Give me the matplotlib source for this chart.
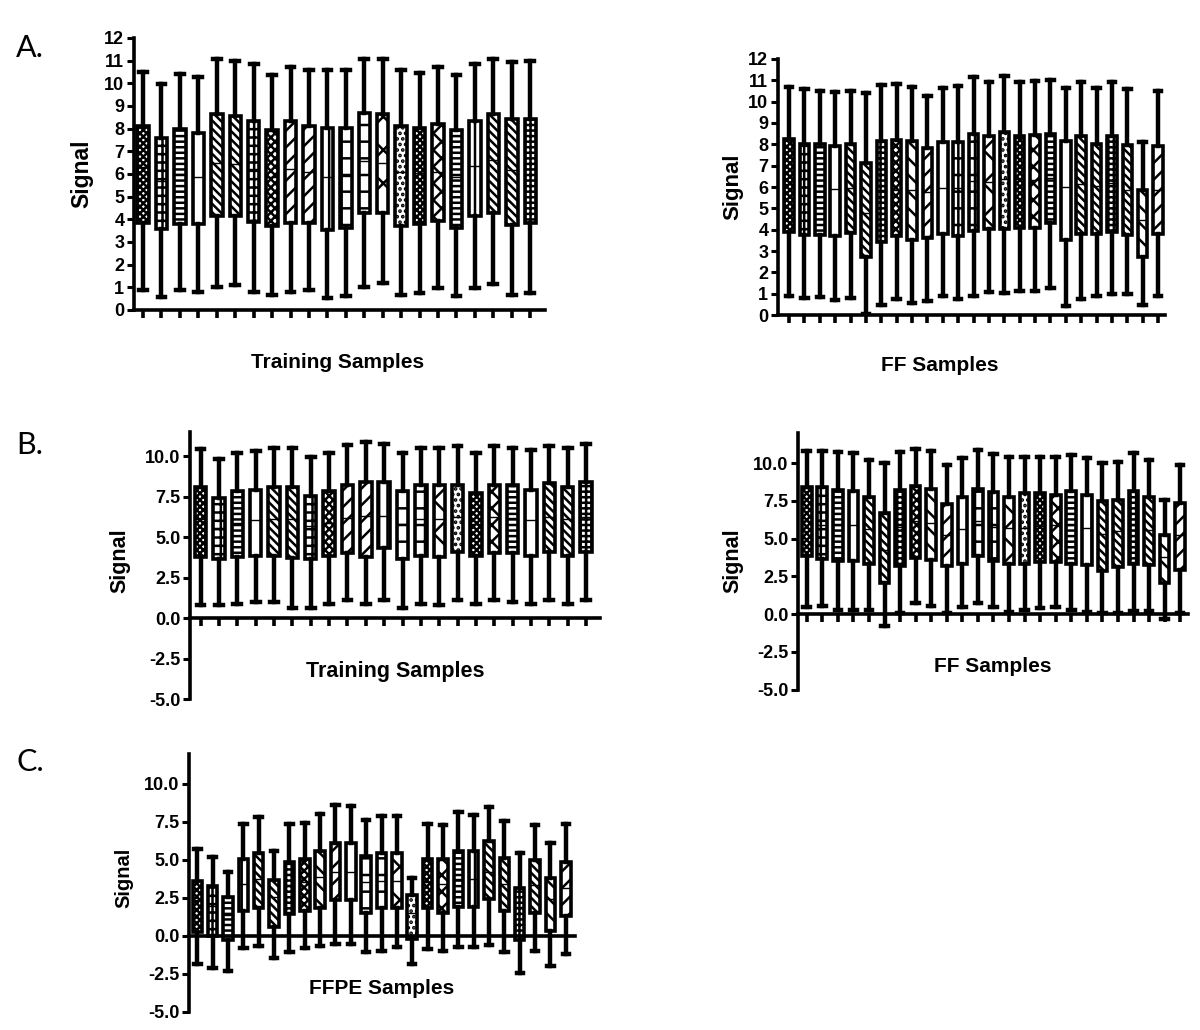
import matplotlib
matplotlib.use("Agg")
import matplotlib.pyplot as plt
from matplotlib.ticker import FixedLocator, FormatStrFormatter

plt.rcParams['font.family'] = ['Liberation Sans', 'DejaVu Sans']
plt.rcParams['axes.unicode_minus'] = False
plt.rcParams['hatch.linewidth'] = 1.8

# ---------------- data (box statistics per sample) ----------------
# Panel A, training samples (22)
a_train_lo = [0.89, 0.56, 0.89, 0.81, 1.03, 1.10, 0.81, 0.68, 0.81, 0.89, 0.52, 0.63, 1.03, 1.18, 0.68, 0.75, 0.97, 0.63, 0.97, 1.15, 0.68, 0.75]
a_train_q1 = [3.84, 3.56, 3.81, 3.81, 4.15, 4.15, 3.88, 3.70, 3.84, 3.84, 3.51, 3.63, 4.28, 4.28, 3.70, 3.81, 3.93, 3.63, 4.15, 4.28, 3.76, 3.84]
a_train_med = [6.30, 5.68, 6.00, 5.87, 6.50, 6.46, 6.24, 5.87, 6.21, 6.10, 5.87, 5.92, 6.57, 6.50, 6.10, 6.05, 6.10, 5.87, 6.35, 6.61, 6.17, 6.24]
a_train_q3 = [8.13, 7.60, 7.97, 7.79, 8.63, 8.58, 8.34, 7.94, 8.34, 8.13, 8.04, 8.04, 8.68, 8.63, 8.13, 8.04, 8.19, 7.94, 8.34, 8.63, 8.41, 8.41]
a_train_hi = [10.50, 9.96, 10.40, 10.26, 11.08, 11.00, 10.85, 10.35, 10.70, 10.57, 10.57, 10.57, 11.07, 11.07, 10.57, 10.45, 10.70, 10.35, 10.85, 11.08, 10.94, 11.00]

# Panel A, FF samples (25)
a_ff_lo = [0.89, 0.78, 0.83, 0.70, 0.78, 0.05, 0.47, 0.74, 0.58, 0.66, 0.89, 0.74, 0.89, 1.10, 1.02, 1.14, 1.14, 1.25, 0.44, 0.74, 0.89, 0.97, 0.97, 0.47, 0.89]
a_ff_q1 = [3.87, 3.76, 3.76, 3.68, 3.83, 2.71, 3.41, 3.68, 3.52, 3.60, 3.80, 3.71, 3.96, 4.02, 4.02, 4.07, 4.07, 4.33, 3.52, 3.80, 3.80, 3.91, 3.76, 2.71, 3.79]
a_ff_med = [6.13, 5.98, 6.03, 5.90, 5.95, 4.80, 5.84, 5.87, 5.87, 5.76, 5.95, 5.95, 6.29, 6.23, 6.38, 6.37, 6.34, 6.42, 5.98, 6.15, 6.07, 6.18, 5.84, 4.46, 5.84]
a_ff_q3 = [8.25, 8.03, 8.03, 7.90, 8.03, 7.12, 8.14, 8.22, 8.14, 7.82, 8.09, 8.09, 8.50, 8.37, 8.56, 8.37, 8.45, 8.50, 8.14, 8.37, 8.03, 8.37, 7.98, 5.84, 7.90]
a_ff_hi = [10.67, 10.60, 10.52, 10.44, 10.52, 10.40, 10.77, 10.85, 10.69, 10.28, 10.64, 10.72, 11.14, 10.92, 11.19, 10.91, 10.95, 11.00, 10.64, 10.91, 10.64, 10.92, 10.60, 8.10, 10.52]

# Panel B, training samples (22)
b_train_lo = [0.82, 0.82, 0.88, 0.97, 0.97, 0.62, 0.62, 0.88, 1.13, 0.88, 1.13, 0.62, 0.88, 0.82, 1.13, 0.88, 1.13, 0.97, 0.88, 1.13, 0.88, 1.13]
b_train_q1 = [3.80, 3.63, 3.80, 3.86, 3.86, 3.70, 3.63, 3.86, 4.05, 3.80, 4.31, 3.63, 3.86, 3.80, 4.11, 3.86, 4.05, 4.05, 3.86, 4.11, 3.86, 4.11]
b_train_med = [6.10, 5.59, 5.89, 6.06, 6.10, 6.10, 5.69, 5.89, 6.16, 6.30, 6.30, 5.81, 6.10, 6.10, 6.22, 5.81, 6.22, 6.16, 6.06, 6.22, 6.10, 6.22]
b_train_q3 = [8.11, 7.43, 7.84, 7.90, 8.11, 8.11, 7.54, 7.84, 8.21, 8.38, 8.38, 7.84, 8.21, 8.21, 8.21, 7.76, 8.21, 8.21, 7.90, 8.32, 8.11, 8.38]
b_train_hi = [10.43, 9.86, 10.20, 10.31, 10.53, 10.53, 9.96, 10.20, 10.68, 10.88, 10.74, 10.20, 10.53, 10.53, 10.64, 10.20, 10.64, 10.53, 10.37, 10.64, 10.53, 10.78]

# Panel B, FF samples (25)
b_ff_lo = [0.44, 0.53, 0.26, 0.26, 0.26, -0.79, 0.09, 0.70, 0.53, 0.09, 0.44, 0.70, 0.44, 0.15, 0.26, 0.37, 0.48, 0.26, 0.15, 0.09, 0.09, 0.20, 0.20, -0.35, 0.09]
b_ff_q1 = [3.83, 3.68, 3.50, 3.50, 3.30, 2.03, 3.17, 3.72, 3.61, 3.17, 3.35, 3.83, 3.50, 3.30, 3.35, 3.46, 3.46, 3.35, 3.24, 2.86, 3.13, 3.35, 3.24, 2.03, 2.91]
b_ff_med = [6.15, 5.93, 5.93, 5.93, 5.62, 4.23, 5.77, 6.17, 6.04, 5.26, 5.62, 6.17, 5.77, 5.70, 5.70, 5.84, 5.88, 5.93, 5.73, 5.33, 5.51, 5.93, 5.59, 3.79, 5.26]
b_ff_q3 = [8.41, 8.41, 8.19, 8.13, 7.75, 6.70, 8.19, 8.46, 8.30, 7.31, 7.75, 8.30, 8.08, 7.75, 8.02, 8.02, 7.91, 8.15, 7.91, 7.47, 7.58, 8.13, 7.75, 5.22, 7.36]
b_ff_hi = [10.84, 10.84, 10.77, 10.66, 10.24, 10.02, 10.77, 10.95, 10.84, 9.85, 10.35, 10.90, 10.62, 10.44, 10.44, 10.44, 10.44, 10.57, 10.35, 10.02, 10.11, 10.66, 10.24, 7.58, 9.89]

# Panel C, FFPE samples (25)
c_ffpe_lo = [-1.85, -2.09, -2.29, -0.77, -0.64, -1.47, -1.03, -0.77, -0.66, -0.55, -0.55, -1.08, -0.97, -0.70, -1.85, -0.86, -0.99, -0.70, -0.70, -0.59, -1.08, -2.46, -0.99, -1.98, -1.21]
c_ffpe_q1 = [0.29, 0.02, -0.26, 1.67, 1.82, 0.62, 1.43, 1.67, 1.82, 2.37, 2.37, 1.54, 1.82, 1.87, -0.20, 1.82, 1.54, 1.93, 1.93, 2.42, 1.67, -0.26, 1.54, 0.35, 1.34]
c_ffpe_med = [2.37, 2.00, 1.38, 3.43, 3.74, 2.55, 3.36, 3.52, 3.85, 4.24, 4.18, 3.52, 3.63, 3.63, 1.49, 3.58, 3.41, 3.76, 3.76, 4.24, 3.41, 1.89, 3.36, 2.42, 3.19]
c_ffpe_q3 = [3.63, 3.30, 2.59, 5.05, 5.45, 3.69, 4.90, 5.05, 5.60, 6.15, 6.15, 5.27, 5.45, 5.45, 2.70, 5.05, 5.05, 5.60, 5.60, 6.22, 5.16, 3.19, 5.01, 3.80, 4.84]
c_ffpe_hi = [5.71, 5.23, 4.24, 7.36, 7.80, 5.56, 7.36, 7.43, 8.02, 8.64, 8.57, 7.60, 7.91, 7.91, 3.80, 7.36, 7.32, 8.15, 7.98, 8.48, 7.58, 5.45, 7.32, 6.15, 7.36]

# fill patterns per sample (style)
hatch_22 = ['xxxxx', '++', '---', '', '\\\\\\\\', '\\\\\\\\', '++', 'xxxx', '//', '//', '||', '+', '+',
            'x', '...', 'xxxxx', 'xx', '---', '|', '\\\\\\\\', '\\\\\\\\', '+++']
hatch_25 = ['xxxxx', '++', '---', '|', '\\\\\\\\', '\\\\\\\\', '+++', 'xxxx', '\\\\', '//', '', '+', '+',
            'x', '...', 'xxxxx', 'xx', '---', '|', '\\\\\\\\', '\\\\\\\\', '+++', '\\\\\\\\', '\\\\', '//']

W, H = 1200, 1030
fig = plt.figure(figsize=(W / 100, H / 100), dpi=100)

LW = 2.6


def add_axes_px(x0, x1, ytop, ybot):
    return fig.add_axes([x0 / W, 1 - ybot / H, (x1 - x0) / W, (ybot - ytop) / H])


def draw_panel(ax, lo, q1, med, q3, hi, hatches, xlim, ylim, yticks, fmt, zero_axis):
    stats = []
    for i in range(len(med)):
        stats.append(dict(whislo=lo[i], q1=q1[i], med=med[i], q3=q3[i], whishi=hi[i], fliers=[]))
    pos = list(range(1, len(med) + 1))
    bp = ax.bxp(stats, positions=pos, widths=0.62, capwidths=0.42, patch_artist=True,
                showfliers=False,
                boxprops=dict(facecolor='white', edgecolor='black', linewidth=LW),
                whiskerprops=dict(color='black', linewidth=LW + 0.6),
                capprops=dict(color='black', linewidth=LW + 0.6),
                medianprops=dict(color='black', linewidth=1.0))
    for patch, h in zip(bp['boxes'], hatches):
        patch.set_hatch(h)
    ax.set_xlim(*xlim)
    ax.set_ylim(*ylim)
    ax.yaxis.set_major_locator(FixedLocator(yticks))
    ax.yaxis.set_major_formatter(FormatStrFormatter(fmt))
    ax.xaxis.set_major_locator(FixedLocator(pos))
    ax.set_xticklabels([])
    for s in ['top', 'right']:
        ax.spines[s].set_visible(False)
    ax.spines['left'].set_linewidth(LW)
    ax.spines['bottom'].set_linewidth(LW)
    if zero_axis:
        ax.spines['bottom'].set_position(('data', 0))
    ax.tick_params(axis='y', direction='out', length=5, width=2.2, labelsize=13, pad=2)
    ax.tick_params(axis='x', direction='out', length=6, width=2.6)
    for t in ax.get_yticklabels():
        t.set_fontweight('bold')
    ax.patch.set_alpha(0)


# A left
ax1 = add_axes_px(134, 545, 38, 310)
draw_panel(ax1, a_train_lo, a_train_q1, a_train_med, a_train_q3, a_train_hi, hatch_22,
           (0.51, 22.8), (0, 12), list(range(0, 13)), '%d', False)
# A right
ax2 = add_axes_px(778, 1165, 59, 315)
draw_panel(ax2, a_ff_lo, a_ff_q1, a_ff_med, a_ff_q3, a_ff_hi, hatch_25,
           (0.28, 25.45), (0, 12), list(range(0, 13)), '%d', False)
# B left
ax3 = add_axes_px(190, 600, 432, 699)
draw_panel(ax3, b_train_lo, b_train_q1, b_train_med, b_train_q3, b_train_hi, hatch_22,
           (0.42, 22.76), (-5, 11.5), [-5, -2.5, 0, 2.5, 5, 7.5, 10], '%.1f', True)
# B right
ax4 = add_axes_px(798, 1188, 433, 689.5)
draw_panel(ax4, b_ff_lo, b_ff_q1, b_ff_med, b_ff_q3, b_ff_hi, hatch_25,
           (0.44, 25.5), (-5, 12), [-5, -2.5, 0, 2.5, 5, 7.5, 10], '%.1f', True)
# C
ax5 = add_axes_px(189, 575, 753.6, 1012)
draw_panel(ax5, c_ffpe_lo, c_ffpe_q1, c_ffpe_med, c_ffpe_q3, c_ffpe_hi, hatch_25,
           (0.46, 25.6), (-5, 12), [-5, -2.5, 0, 2.5, 5, 7.5, 10], '%.1f', True)


def ftext(x, y, s, **kw):
    fig.text(x / W, 1 - y / H, s, ha='center', va='center', **kw)


# axis titles
ftext(82, 174, 'Signal', rotation=90, fontsize=16.5, fontweight='bold')
ftext(338, 363, 'Training Samples', fontsize=15, fontweight='bold')
ftext(733, 187, 'Signal', rotation=90, fontsize=16, fontweight='bold')
ftext(940, 365, 'FF Samples', fontsize=15, fontweight='bold')
ftext(120, 561, 'Signal', rotation=90, fontsize=15.5, fontweight='bold')
ftext(395, 671, 'Training Samples', fontsize=15.5, fontweight='bold')
ftext(733, 561, 'Signal', rotation=90, fontsize=15.5, fontweight='bold')
ftext(993, 666, 'FF Samples', fontsize=15, fontweight='bold')
ftext(124, 878, 'Signal', rotation=90, fontsize=14.5, fontweight='bold')
ftext(382, 988, 'FFPE Samples', fontsize=15, fontweight='bold')

# panel letters
for lbl, (x, y) in zip(['A.', 'B.', 'C.'], [(30, 48), (30, 445), (30, 762)]):
    fig.text(x / W, 1 - y / H, lbl, ha='center', va='center', fontsize=22,
             family=['Lato', 'DejaVu Sans'])

fig.savefig('out.png', dpi=100)
